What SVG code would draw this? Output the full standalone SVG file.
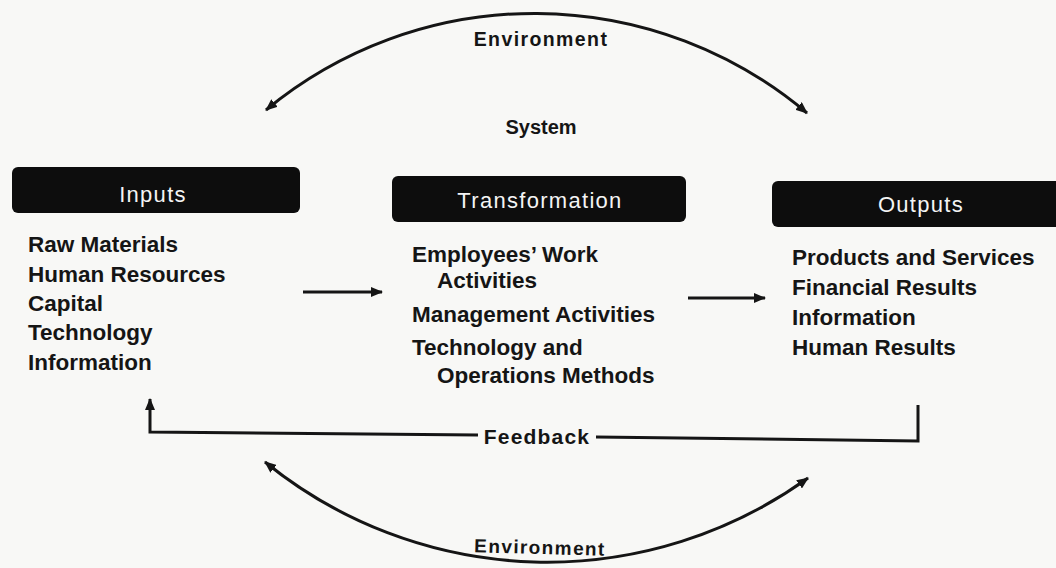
<svg xmlns="http://www.w3.org/2000/svg" width="1056" height="568" viewBox="0 0 1056 568">
  <style>
    .head { fill: #0d0d0d; }
    .headtxt { font-family: "Liberation Sans", Arial, sans-serif; font-size: 22px; fill: #f4f4f4; letter-spacing: 1.3px; text-anchor: middle; }
    .item { font-family: "Liberation Sans", Arial, sans-serif; font-weight: bold; font-size: 22.5px; fill: #151515; }
    .lbl { font-family: "Liberation Sans", Arial, sans-serif; font-weight: bold; fill: #151515; text-anchor: middle; }
    .wire { fill: none; stroke: #151515; stroke-width: 3; }
  </style>
  <defs>
    <marker id="tip" viewBox="0 0 12 10" refX="11" refY="5" markerWidth="12" markerHeight="10" markerUnits="userSpaceOnUse" orient="auto-start-reverse">
      <path d="M0,0 L12,5 L0,10 Z" fill="#151515"/>
    </marker>
  </defs>

  <rect width="1056" height="568" fill="#f8f8f6"/>

  <!-- environment arcs -->
  <g id="environment">
    <path class="wire" d="M266,110 A422,422 0 0 1 807,113" marker-start="url(#tip)" marker-end="url(#tip)"/>
    <text class="lbl" x="541" y="46" font-size="19.5" letter-spacing="1.4">Environment</text>
    <path class="wire" d="M265,462 A447,447 0 0 0 808,478" marker-start="url(#tip)" marker-end="url(#tip)"/>
    <text class="lbl" x="540" y="554" font-size="19" font-weight="normal" letter-spacing="1.4" transform="rotate(1.5 540 548)">Environment</text>
  </g>

  <g id="system">
    <text class="lbl" x="541" y="134" font-size="20">System</text>
  </g>

  <!-- inputs -->
  <g id="inputs">
    <rect class="head" x="12" y="167" width="288" height="46" rx="6"/>
    <text class="headtxt" x="153" y="202">Inputs</text>
    <text class="item" x="28" y="252">Raw Materials</text>
    <text class="item" x="28" y="282">Human Resources</text>
    <text class="item" x="28" y="311">Capital</text>
    <text class="item" x="28" y="340">Technology</text>
    <text class="item" x="28" y="370">Information</text>
  </g>

  <!-- transformation -->
  <g id="transformation">
    <rect class="head" x="392" y="176" width="294" height="46" rx="6"/>
    <text class="headtxt" x="540" y="208">Transformation</text>
    <text class="item" x="412" y="262">Employees’ Work</text>
    <text class="item" x="437" y="288">Activities</text>
    <text class="item" x="412" y="322">Management Activities</text>
    <text class="item" x="412" y="355">Technology and</text>
    <text class="item" x="437" y="383">Operations Methods</text>
  </g>

  <!-- outputs -->
  <g id="outputs">
    <rect class="head" x="772" y="181" width="300" height="46" rx="6"/>
    <text class="headtxt" x="921" y="212">Outputs</text>
    <text class="item" x="792" y="265">Products and Services</text>
    <text class="item" x="792" y="295">Financial Results</text>
    <text class="item" x="792" y="325">Information</text>
    <text class="item" x="792" y="355">Human Results</text>
  </g>

  <!-- flow and feedback connectors -->
  <g id="connectors">
    <path class="wire" d="M303,292 L382,292" marker-end="url(#tip)"/>
    <path class="wire" d="M688,298 L765,298" marker-end="url(#tip)"/>
    <path class="wire" d="M918,405 L918,441 L596,437"/>
    <path class="wire" d="M478,435 L150,432 L150,399" marker-end="url(#tip)"/>
    <text class="lbl" x="537" y="444" font-size="21" letter-spacing="1.2">Feedback</text>
  </g>
</svg>
